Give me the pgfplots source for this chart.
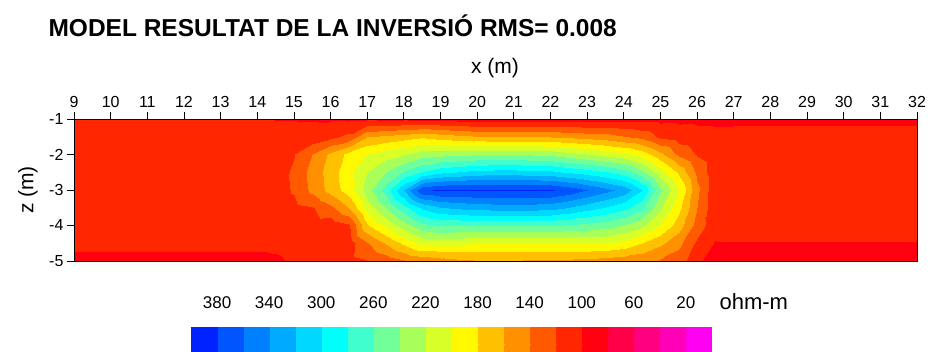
\documentclass[border=0pt]{standalone}
\usepackage{pgfplots}
\pgfplotsset{compat=1.18}
\usepackage{pgfplotstable}
\usepackage{fontspec}
\setmainfont{Liberation Sans}
\pgfplotsset{/pgf/number format/assume math mode=true}

% resistivity model (ohm-m): x (m), z (m), value
\pgfplotstableread[row sep=\\]{
x z v\\
9 -1 101\\14 -1 101\\14.5 -1 99.5\\15 -1 99.3\\15.5 -1 99\\16 -1 98.5\\16.5 -1 98\\17 -1 97\\17.5 -1 96\\18 -1 96\\18.5 -1 95\\19 -1 93\\19.5 -1 91\\20 -1 90\\20.5 -1 90\\21 -1 90\\21.5 -1 90\\22 -1 90\\22.5 -1 91\\23 -1 91\\23.5 -1 92\\24 -1 93\\24.5 -1 94\\25 -1 95\\25.5 -1 96\\26 -1 97\\26.5 -1 97\\27 -1 97\\32 -1 97\\
9 -1.5 108\\14 -1.5 108\\14.5 -1.5 108\\15 -1.5 106\\15.5 -1.5 106\\16 -1.5 116\\16.5 -1.5 126\\17 -1.5 160\\17.5 -1.5 166\\18 -1.5 172\\18.5 -1.5 178\\19 -1.5 172\\19.5 -1.5 167\\20 -1.5 163\\20.5 -1.5 162\\21 -1.5 162\\21.5 -1.5 161\\22 -1.5 160\\22.5 -1.5 157\\23 -1.5 153\\23.5 -1.5 150\\24 -1.5 142\\24.5 -1.5 135\\25 -1.5 117\\25.5 -1.5 110\\26 -1.5 106\\26.5 -1.5 104\\27 -1.5 105\\32 -1.5 105\\
9 -2 110\\14 -2 110\\14.5 -2 111\\15 -2 119\\15.5 -2 140\\16 -2 165\\16.5 -2 186\\17 -2 200\\17.5 -2 210\\18 -2 218\\18.5 -2 230\\19 -2 233\\19.5 -2 235\\20 -2 237\\20.5 -2 237\\21 -2 237\\21.5 -2 236\\22 -2 234\\22.5 -2 227\\23 -2 220\\23.5 -2 212\\24 -2 205\\24.5 -2 190\\25 -2 165\\25.5 -2 135\\26 -2 118\\26.5 -2 108\\27 -2 110\\32 -2 110\\
9 -2.5 110\\14 -2.5 110\\14.5 -2.5 112\\15 -2.5 123\\15.5 -2.5 148\\16 -2.5 170\\16.5 -2.5 195\\17 -2.5 220\\17.5 -2.5 240\\18 -2.5 262\\18.5 -2.5 281\\19 -2.5 295\\19.5 -2.5 301\\20 -2.5 307\\20.5 -2.5 308\\21 -2.5 308\\21.5 -2.5 307\\22 -2.5 305\\22.5 -2.5 297\\23 -2.5 290\\23.5 -2.5 282\\24 -2.5 270\\24.5 -2.5 245\\25 -2.5 210\\25.5 -2.5 175\\26 -2.5 135\\26.5 -2.5 107\\27 -2.5 110\\32 -2.5 110\\
9 -3 110\\14 -3 110\\14.5 -3 113\\15 -3 122\\15.5 -3 145\\16 -3 168\\16.5 -3 191\\17 -3 230\\17.5 -3 270\\18 -3 322\\18.5 -3 376\\19 -3 383\\19.5 -3 383\\20 -3 383\\20.5 -3 383\\21 -3 383\\21.5 -3 383\\22 -3 382\\22.5 -3 373\\23 -3 360\\23.5 -3 347\\24 -3 333\\24.5 -3 300\\25 -3 245\\25.5 -3 200\\26 -3 145\\26.5 -3 105\\27 -3 110\\32 -3 110\\
9 -3.5 110\\14 -3.5 110\\14.5 -3.5 111\\15 -3.5 114\\15.5 -3.5 118\\16 -3.5 135\\16.5 -3.5 160\\17 -3.5 208\\17.5 -3.5 240\\18 -3.5 272\\18.5 -3.5 303\\19 -3.5 318\\19.5 -3.5 323\\20 -3.5 327\\20.5 -3.5 328\\21 -3.5 328\\21.5 -3.5 328\\22 -3.5 327\\22.5 -3.5 318\\23 -3.5 308\\23.5 -3.5 298\\24 -3.5 285\\24.5 -3.5 265\\25 -3.5 225\\25.5 -3.5 185\\26 -3.5 140\\26.5 -3.5 106\\27 -3.5 110\\32 -3.5 110\\
9 -4 108\\14 -4 108\\14.5 -4 108\\15 -4 110\\15.5 -4 110\\16 -4 108\\16.5 -4 118\\17 -4 178\\17.5 -4 205\\18 -4 232\\18.5 -4 255\\19 -4 262\\19.5 -4 262\\20 -4 262\\20.5 -4 263\\21 -4 263\\21.5 -4 263\\22 -4 263\\22.5 -4 259\\23 -4 255\\23.5 -4 250\\24 -4 240\\24.5 -4 225\\25 -4 200\\25.5 -4 170\\26 -4 132\\26.5 -4 107\\27 -4 108\\32 -4 108\\
9 -4.5 102.5\\14 -4.5 102.5\\14.5 -4.5 103\\15 -4.5 105\\15.5 -4.5 107\\16 -4.5 108\\16.5 -4.5 111\\17 -4.5 138\\17.5 -4.5 162\\18 -4.5 185\\18.5 -4.5 206\\19 -4.5 206\\19.5 -4.5 204\\20 -4.5 201\\20.5 -4.5 202\\21 -4.5 202\\21.5 -4.5 202\\22 -4.5 202\\22.5 -4.5 202\\23 -4.5 202\\23.5 -4.5 201\\24 -4.5 195\\24.5 -4.5 180\\25 -4.5 165\\25.5 -4.5 145\\26 -4.5 116\\26.5 -4.5 99\\27 -4.5 99\\32 -4.5 99\\
9 -5 97\\14 -5 97\\14.5 -5 98\\15 -5 102\\15.5 -5 106\\16 -5 110\\16.5 -5 114\\17 -5 119\\17.5 -5 128\\18 -5 137\\18.5 -5 145\\19 -5 151\\19.5 -5 155\\20 -5 158\\20.5 -5 158\\21 -5 158\\21.5 -5 157\\22 -5 156\\22.5 -5 155\\23 -5 153\\23.5 -5 151\\24 -5 148\\24.5 -5 146\\25 -5 138\\25.5 -5 130\\26 -5 103\\26.5 -5 92\\27 -5 91\\32 -5 91\\
}\resdata

\begin{document}
\begin{tikzpicture}
\path[use as bounding box] (-74pt,-91pt) rectangle (855pt,261pt);
\begin{axis}[
  at={(0pt,0pt)}, anchor=south west,
  scale only axis, width=843pt, height=142pt,
  xmin=9, xmax=32, ymin=-5, ymax=-1,
  xtick={9,...,32}, ytick={-5,...,-1},
  xtick pos=right, xticklabel pos=right,
  ytick pos=left,
  tick align=outside, major tick length=7pt,
  tick style={black, line width=0.8pt},
  axis line style={line width=0.8pt},
  tick label style={font=\fontsize{16}{19}\selectfont},
  xticklabel style={yshift=1pt},
  colormap={res}{
    rgb255=(255,0,240) rgb255=(255,0,184) rgb255=(255,0,128) rgb255=(255,0,72)
    rgb255=(255,0,16) rgb255=(255,38,0) rgb255=(255,90,0) rgb255=(255,144,0)
    rgb255=(255,192,0) rgb255=(255,248,0) rgb255=(216,255,40) rgb255=(168,255,90)
    rgb255=(112,255,153) rgb255=(64,255,204) rgb255=(0,255,250) rgb255=(0,216,255)
    rgb255=(0,170,255) rgb255=(0,128,255) rgb255=(0,85,255) rgb255=(0,34,255)},
  colormap access=piecewise constant,
  point meta min=0, point meta max=400,
  colorbar horizontal,
  colorbar style={
    at={(117pt,-57pt)}, anchor=north west,
    scale only axis, width=521pt, height=34pt,
    x dir=reverse,
    xtick={20,60,...,380},
    xtick pos=right, xticklabel pos=right,
    xtick style={draw=none},
    major tick length=0pt,
    axis line style={draw=none},
    xticklabel style={font=\fontsize{17}{19}\selectfont, yshift=14pt},
  },
  axis on top,
]
\addplot[surf, shader=interp, mesh/cols=29, point meta=explicit]
  table[x=x, y=z, meta=v] {\resdata};
\end{axis}
\node[anchor=west] at (-29pt,235pt) {\fontsize{24.5}{26}\selectfont\bfseries MODEL RESULTAT DE LA INVERSIÓ RMS= 0.008};
\node at (421pt,193pt) {\fontsize{21}{24}\selectfont x (m)};
\node[rotate=90] at (-46pt,71pt) {\fontsize{21}{24}\selectfont z (m)};
\node[anchor=west] at (642pt,-41pt) {\fontsize{22}{24}\selectfont ohm-m};
\end{tikzpicture}
\end{document}
